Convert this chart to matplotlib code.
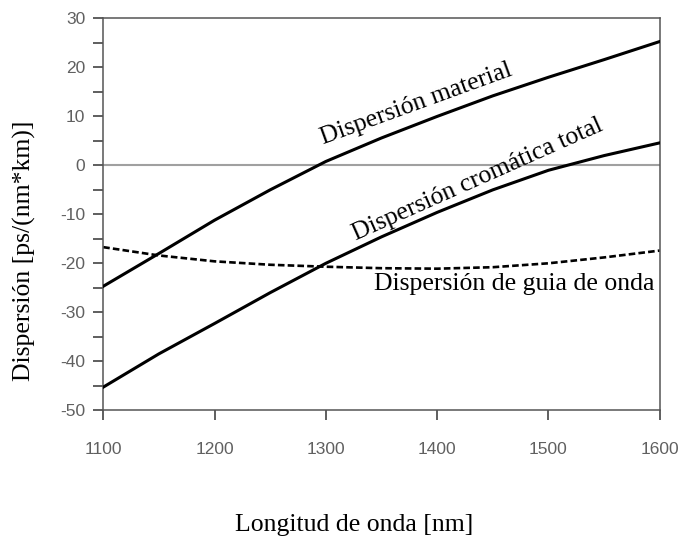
import matplotlib.pyplot as plt
import matplotlib.ticker as ticker

# Longitudes de onda [nm] y dispersiones [ps/(nm*km)]
wavelength = [1100, 1150, 1200, 1250, 1300, 1350, 1400, 1450, 1500, 1550, 1600]
material = [-24.7, -18.0, -11.2, -5.0, 0.8, 5.6, 10.0, 14.2, 18.0, 21.6, 25.3]
total = [-45.3, -38.5, -32.3, -26.0, -20.0, -14.6, -9.6, -5.0, -1.0, 2.0, 4.6]
guia = [-16.7, -18.4, -19.6, -20.3, -20.7, -21.0, -21.1, -20.8, -20.0, -18.8, -17.4]

xticks = [1100, 1200, 1300, 1400, 1500, 1600]
yticks = [-50, -40, -30, -20, -10, 0, 10, 20, 30]

serif = ['Liberation Serif', 'DejaVu Serif']
sans = ['Liberation Sans', 'DejaVu Sans']
plt.rcParams['axes.unicode_minus'] = False

fig = plt.figure(figsize=(6.88, 5.44), dpi=100)
ax = fig.add_axes([0.150, 0.246, 0.809, 0.720])

ax.axhline(0, color='#a0a0a0', lw=1.5, zorder=1)
ax.plot(wavelength, material, color='black', lw=2.2, zorder=3)
ax.plot(wavelength, total, color='black', lw=2.2, zorder=3)
ax.plot(wavelength, guia, color='black', lw=1.9, ls=(0, (2.5, 1.2)), zorder=2)

ax.set_xlim(1100, 1600)
ax.set_ylim(-50, 30)
ax.set_xticks(xticks)
ax.set_yticks(yticks)
ax.yaxis.set_minor_locator(ticker.MultipleLocator(5))

for s in ax.spines.values():
    s.set_color('#555555')
    s.set_linewidth(1.1)

ax.tick_params(which='both', direction='out', length=7, width=1.1, color='#333333',
               labelcolor='#606060', labelsize=12.5)
ax.tick_params(axis='x', pad=16)
ax.tick_params(axis='y', pad=6)
for lab in ax.get_xticklabels() + ax.get_yticklabels():
    lab.set_family(sans)

# etiquetas de los ejes
fig.text(354 / 688, 1 - 531 / 544, 'Longitud de onda [nm]', family=serif,
         fontsize=18.5, ha='center', va='baseline')
fig.text(24 / 688, 1 - 251 / 544, 'Dispersión [ps/(nm*km)]', family=serif,
         fontsize=18.5, rotation=90, ha='center', va='center')

# nombres de las curvas
ax.text(1383, 11.4, 'Dispersión material', family=serif, fontsize=18.5,
        rotation=20, rotation_mode='anchor', ha='center', va='baseline')
ax.text(1439, -4.1, 'Dispersión cromática total', family=serif, fontsize=18.5,
        rotation=24, rotation_mode='anchor', ha='center', va='baseline')
ax.text(1595.5, -25.5, 'Dispersión de guia de onda', family=serif, fontsize=18.5,
        ha='right', va='baseline')

fig.savefig('out.png', dpi=100)
